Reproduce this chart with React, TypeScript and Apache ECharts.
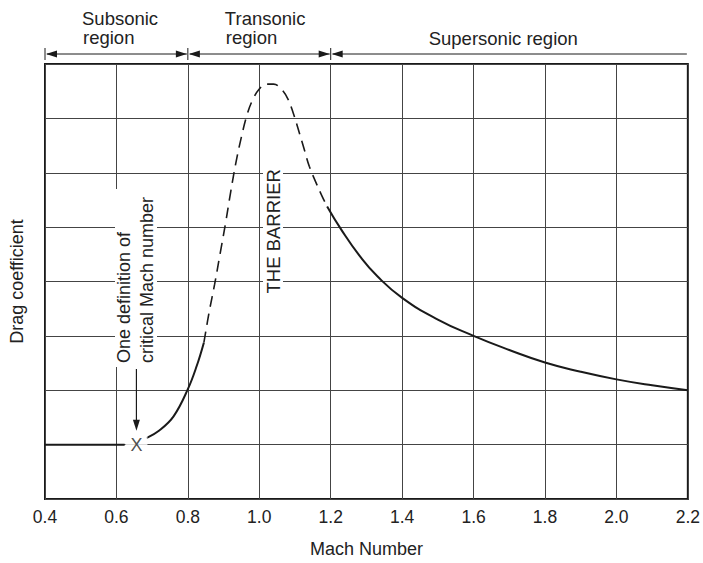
import React, { useEffect, useRef } from "react";
import * as echarts from "echarts";

const FONT = '"Liberation Sans", Arial, Helvetica, sans-serif';

// Mach-number region bounds and labels
const REGION_BOUNDS = [0.4, 0.8, 1.2, 2.2];
const REGION_LABELS = [["Subsonic", "region"], ["Transonic", "region"], ["Supersonic region"]];

// Drag coefficient curve (grid units, 0..8)
const SUBSONIC_FLAT = [[0.4, 1.0], [0.5, 1.0], [0.623, 1.0]];
const CRITICAL_MACH = [[0.656, 1.0]];
const RISE = [[0.684, 1.12], [0.72, 1.26], [0.76, 1.52], [0.8, 2.02], [0.825, 2.45], [0.845, 2.88]];
const BARRIER = [
  [0.845, 2.88], [0.86, 3.45], [0.875, 3.95], [0.89, 4.5], [0.905, 5.05], [0.92, 5.65],
  [0.935, 6.2], [0.95, 6.66], [0.965, 7.05], [0.98, 7.32], [1.0, 7.54], [1.02, 7.63],
  [1.04, 7.63], [1.06, 7.55], [1.08, 7.36], [1.095, 7.1], [1.11, 6.78], [1.125, 6.45],
  [1.14, 6.12], [1.16, 5.8], [1.175, 5.58], [1.19, 5.38],
];
const SUPERSONIC = [
  [1.19, 5.38], [1.23, 4.95], [1.28, 4.48], [1.33, 4.1], [1.4, 3.7], [1.5, 3.3],
  [1.6, 3.0], [1.7, 2.74], [1.8, 2.51], [1.9, 2.34], [2.0, 2.2], [2.1, 2.09], [2.2, 2.0],
];

const INK = "#1a1a1a";
const GRID = "#444";

export default function App() {
  const ref = useRef<HTMLDivElement>(null);
  useEffect(() => {
    const el = ref.current!;
    const chart = echarts.init(el, null, { renderer: "svg" });
    const option: any = {
      animation: false,
      backgroundColor: "#fff",
      textStyle: { fontFamily: FONT },
      grid: { left: 43, right: 14, top: 64, bottom: 58, show: true, borderColor: INK, borderWidth: 2, backgroundColor: "transparent" },
      xAxis: {
        type: "value", min: 0.4, max: 2.2, interval: 0.2,
        axisLine: { show: false }, axisTick: { show: false },
        splitLine: { show: true, lineStyle: { color: GRID, width: 1 } },
        axisLabel: { formatter: (v: number) => v.toFixed(1), fontSize: 17.5, color: "#222", margin: 9, fontFamily: FONT },
        name: "Mach Number", nameLocation: "middle", nameGap: 41,
        nameTextStyle: { fontSize: 18, color: "#222", fontFamily: FONT },
      },
      yAxis: {
        type: "value", min: 0, max: 8, interval: 1,
        axisLine: { show: false }, axisTick: { show: false }, axisLabel: { show: false },
        splitLine: { show: true, lineStyle: { color: GRID, width: 1 } },
        name: "Drag coefficient", nameLocation: "middle", nameGap: 19,
        nameTextStyle: { fontSize: 18, color: "#222", fontFamily: FONT },
      },
      series: [
        { type: "line", data: SUBSONIC_FLAT, symbol: "none", lineStyle: { color: INK, width: 2 }, z: 5 },
        { type: "line", data: RISE, symbol: "none", smooth: 0.4, lineStyle: { color: INK, width: 2 }, z: 5 },
        { type: "line", data: BARRIER, symbol: "none", smooth: 0.4, lineStyle: { color: INK, width: 1.6, type: [11, 7] }, z: 5 },
        { type: "line", data: SUPERSONIC, symbol: "none", smooth: 0.5, lineStyle: { color: INK, width: 2 }, z: 5 },
        {
          type: "scatter", data: CRITICAL_MACH, symbolSize: 0, z: 6,
          label: { show: true, position: "inside", formatter: "X", fontSize: 18, color: "#222", backgroundColor: "#fff", padding: [1, 5], fontFamily: FONT },
        },
      ],
    };
    chart.setOption(option);

    const px = (v: number) => chart.convertToPixel({ xAxisIndex: 0 }, v) as number;
    const py = (v: number) => chart.convertToPixel({ yAxisIndex: 0 }, v) as number;
    const ay = 54;
    const g: any[] = [];
    const headL = (x: number) => ({ type: "polygon", z: 100, shape: { points: [[x + 1, ay], [x + 12, ay - 3.5], [x + 12, ay + 3.5]] }, style: { fill: INK } });
    const headR = (x: number) => ({ type: "polygon", z: 100, shape: { points: [[x - 1, ay], [x - 12, ay - 3.5], [x - 12, ay + 3.5]] }, style: { fill: INK } });
    for (let i = 0; i < REGION_BOUNDS.length - 1; i++) {
      const a = px(REGION_BOUNDS[i]);
      const b = px(REGION_BOUNDS[i + 1]);
      g.push({ type: "line", z: 100, shape: { x1: a + 2, y1: ay, x2: b - 1, y2: ay }, style: { stroke: INK, lineWidth: 1 } });
      g.push(headL(a));
      if (i < REGION_BOUNDS.length - 2) {
        g.push(headR(b));
      }
      g.push({ type: "line", z: 100, shape: { x1: a, y1: 48, x2: a, y2: 60 }, style: { stroke: INK, lineWidth: 1 } });
    }
    const textStyle = (text: string, x: number, y: number, size = 18.5) => ({
      type: "text", z: 100, x, y,
      style: { text, fill: "#222", font: `${size}px ${FONT}`, align: "left", verticalAlign: "middle" },
    });
    const x0 = px(REGION_BOUNDS[0]);
    const x1 = px(REGION_BOUNDS[1]);
    const x2 = px(REGION_BOUNDS[2]);
    g.push(textStyle(REGION_LABELS[0][0], x0 + 37, 18.8));
    g.push(textStyle(REGION_LABELS[0][1], x0 + 38, 37.8));
    g.push(textStyle(REGION_LABELS[1][0], x1 + 37, 18.8));
    g.push(textStyle(REGION_LABELS[1][1], x1 + 38, 37.8));
    g.push(textStyle(REGION_LABELS[2][0], x2 + 98, 38.8));

    // annotation: critical Mach number
    g.push({ type: "rect", z: 90, shape: { x: 115, y: 189, width: 42, height: 178 }, style: { fill: "#fff" } });
    g.push({ ...textStyle("One definition of", 123.8, 363, 18), rotation: Math.PI / 2 });
    g.push({ ...textStyle("critical Mach number", 146.8, 363, 18), rotation: Math.PI / 2 });
    const ax = px(CRITICAL_MACH[0][0]);
    const tipY = py(CRITICAL_MACH[0][1]) - 14;
    g.push({ type: "line", z: 100, shape: { x1: ax, y1: 369, x2: ax, y2: tipY - 8 }, style: { stroke: INK, lineWidth: 1.2 } });
    g.push({ type: "polygon", z: 100, shape: { points: [[ax, tipY], [ax - 3.5, tipY - 11], [ax + 3.5, tipY - 11]] }, style: { fill: INK } });

    // annotation: the barrier
    g.push({ type: "rect", z: 90, shape: { x: 263, y: 166, width: 20, height: 131 }, style: { fill: "#fff" } });
    g.push({ ...textStyle("THE BARRIER", 273.7, 293.5, 18.5), rotation: Math.PI / 2 });

    chart.setOption({ graphic: g });
    return () => chart.dispose();
  }, []);
  return <div ref={ref} style={{ position: "fixed", left: 0, top: 0, width: 703, height: 563 }} />;
}
